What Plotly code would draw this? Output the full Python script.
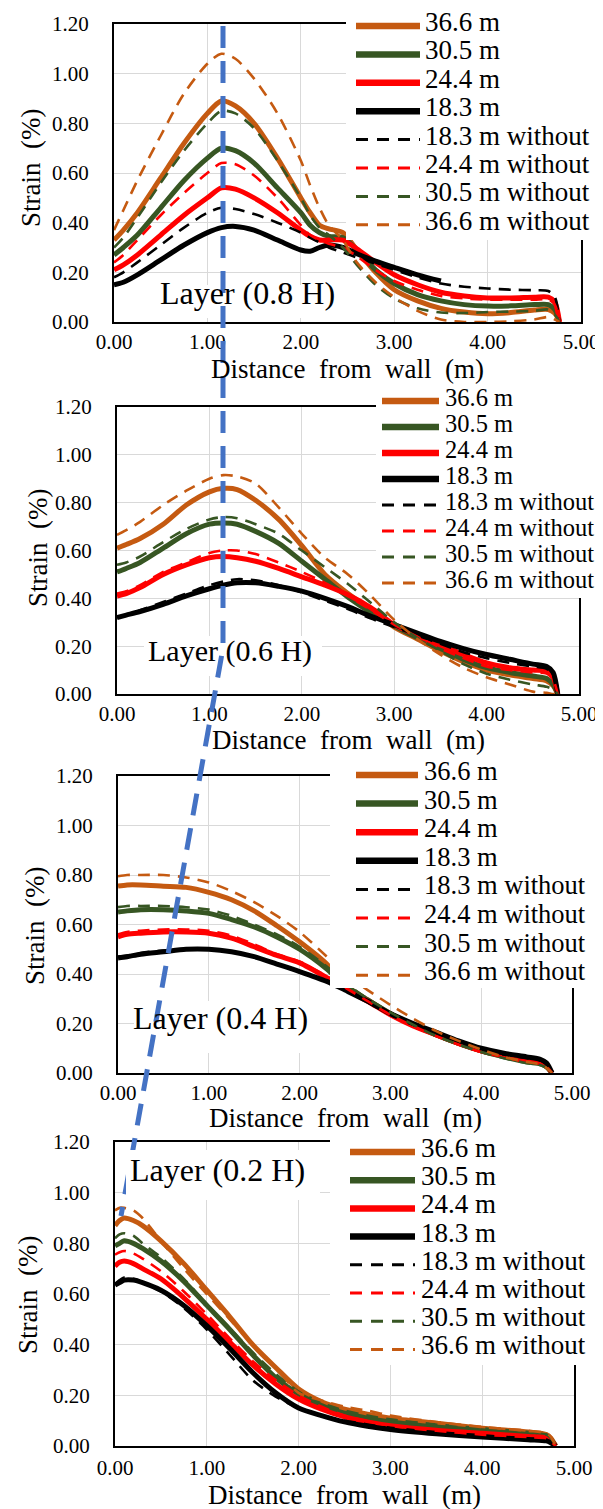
import plotly.graph_objects as go

W, H = 603, 1509
FONT = "Liberation Serif"

# ---------------- data ----------------
NAMES = ["36.6 m", "30.5 m", "24.4 m", "18.3 m",
         "18.3 m without", "24.4 m without", "30.5 m without", "36.6 m without"]
COLORS = ["#C55A11", "#375623", "#FF0000", "#000000",
          "#000000", "#FF0000", "#375623", "#C55A11"]
DASHED = [False, False, False, False, True, True, True, True]
LAYERS = ["Layer (0.8 H)", "Layer (0.6 H)", "Layer (0.4 H)", "Layer (0.2 H)"]
X_TICKS = [0, 1, 2, 3, 4, 5]
Y_TICKS = [0, 0.2, 0.4, 0.6, 0.8, 1.0, 1.2]

# Panel 1 : Layer 0.8 H
X1 = [0, 0.1, 0.25, 0.5, 0.75, 1.0, 1.15, 1.3, 1.5, 1.75, 2.0, 2.1, 2.2, 2.3, 2.45,
      2.6, 2.8, 3.0, 3.25, 3.5, 3.75, 4.0, 4.25, 4.5, 4.65, 4.72, 4.77]
P1_366 = [0.33, 0.37, 0.44, 0.58, 0.72, 0.84, 0.89, 0.87, 0.80, 0.66, 0.50, 0.44, 0.39, 0.375, 0.36,
          0.29, 0.20, 0.13, 0.085, 0.055, 0.04, 0.033, 0.038, 0.048, 0.05, 0.035, 0.0]
P1_305 = [0.27, 0.30, 0.35, 0.46, 0.57, 0.66, 0.70, 0.69, 0.64, 0.54, 0.44, 0.39, 0.36, 0.345, 0.34,
          0.29, 0.21, 0.155, 0.11, 0.085, 0.07, 0.064, 0.065, 0.07, 0.07, 0.05, 0.0]
P1_244 = [0.21, 0.23, 0.27, 0.35, 0.43, 0.50, 0.54, 0.535, 0.50, 0.44, 0.37, 0.345, 0.33, 0.33, 0.33,
          0.295, 0.24, 0.19, 0.15, 0.12, 0.105, 0.097, 0.097, 0.10, 0.10, 0.08, 0.0]
P1_183 = [0.15, 0.16, 0.19, 0.25, 0.31, 0.36, 0.38, 0.385, 0.37, 0.33, 0.29, 0.285, 0.30, 0.31, 0.30,
          0.275, 0.245, 0.22, 0.19, 0.165, None, None, None, None, None, None, None]
P1_183W = [0.18, 0.20, 0.24, 0.31, 0.38, 0.44, 0.46, 0.455, 0.435, 0.40, 0.36, 0.34, 0.32, 0.30, 0.28,
           0.26, 0.235, 0.21, 0.18, 0.155, 0.142, 0.135, 0.13, 0.128, 0.125, 0.10, 0.0]
P1_244W = [0.24, 0.27, 0.33, 0.43, 0.52, 0.60, 0.64, 0.635, 0.59, 0.50, 0.39, 0.35, 0.33, 0.315, 0.30,
           0.265, 0.21, 0.165, 0.13, 0.105, 0.095, 0.09, 0.09, 0.09, 0.09, 0.07, 0.0]
P1_305W = [0.30, 0.34, 0.42, 0.56, 0.69, 0.80, 0.85, 0.84, 0.78, 0.65, 0.50, 0.43, 0.38, 0.35, 0.30,
           0.23, 0.15, 0.095, 0.055, 0.038, 0.036, 0.04, 0.042, 0.045, 0.05, 0.03, 0.0]
P1_366W = [0.37, 0.45, 0.57, 0.75, 0.92, 1.04, 1.08, 1.06, 0.98, 0.84, 0.65, 0.55, 0.46, 0.39, 0.33,
           0.24, 0.16, 0.10, 0.045, 0.01, 0.0, 0.0, 0.003, 0.01, 0.02, 0.01, 0.0]

# Panel 2 : Layer 0.6 H
X2 = [0, 0.1, 0.25, 0.5, 0.75, 1.0, 1.15, 1.3, 1.5, 1.75, 2.0, 2.25, 2.5, 2.75, 3.0,
      3.25, 3.5, 3.75, 4.0, 4.25, 4.5, 4.65, 4.72, 4.77]
P2_366 = [0.61, 0.625, 0.65, 0.71, 0.79, 0.845, 0.86, 0.855, 0.81, 0.73, 0.62, 0.50, 0.42, 0.35, 0.28,
          0.23, 0.18, 0.135, 0.10, 0.08, 0.065, 0.055, 0.035, 0.0]
P2_305 = [0.51, 0.525, 0.55, 0.61, 0.67, 0.71, 0.715, 0.71, 0.68, 0.63, 0.555, 0.48, 0.405, 0.34, 0.285,
          0.235, 0.19, 0.145, 0.11, 0.09, 0.075, 0.065, 0.04, 0.0]
P2_244 = [0.41, 0.42, 0.445, 0.50, 0.54, 0.57, 0.575, 0.57, 0.555, 0.525, 0.49, 0.455, 0.415, 0.36, 0.29,
          0.245, 0.205, 0.165, 0.13, 0.11, 0.10, 0.095, 0.07, 0.0]
P2_183 = [0.32, 0.33, 0.345, 0.375, 0.41, 0.44, 0.455, 0.465, 0.465, 0.45, 0.43, 0.40, 0.365, 0.325, 0.29,
          0.255, 0.22, 0.19, 0.165, 0.145, 0.125, 0.115, 0.09, 0.0]
P2_183W = [0.32, 0.33, 0.35, 0.385, 0.42, 0.455, 0.47, 0.48, 0.475, 0.455, 0.425, 0.39, 0.355, 0.315, 0.28,
           0.245, 0.21, 0.175, 0.15, 0.13, 0.115, 0.105, 0.08, 0.0]
P2_244W = [0.42, 0.43, 0.455, 0.51, 0.55, 0.59, 0.60, 0.60, 0.585, 0.55, 0.51, 0.465, 0.41, 0.35, 0.29,
           0.24, 0.19, 0.15, 0.115, 0.10, 0.09, 0.085, 0.06, 0.0]
P2_305W = [0.54, 0.55, 0.575, 0.635, 0.69, 0.73, 0.74, 0.735, 0.71, 0.67, 0.60, 0.53, 0.46, 0.38, 0.30,
           0.235, 0.18, 0.125, 0.085, 0.06, 0.04, 0.03, 0.02, 0.0]
P2_366W = [0.665, 0.685, 0.72, 0.79, 0.85, 0.90, 0.915, 0.91, 0.88, 0.78, 0.67, 0.57, 0.50, 0.41, 0.31,
           0.23, 0.165, 0.11, 0.07, 0.04, 0.01, 0.005, 0.0, 0.0]

# Panel 3 : Layer 0.4 H
X3 = [0, 0.1, 0.25, 0.5, 0.75, 1.0, 1.25, 1.5, 1.75, 2.0, 2.3, 2.5, 2.75, 3.0,
      3.25, 3.5, 3.75, 4.0, 4.25, 4.5, 4.65, 4.72, 4.78]
P3_366 = [0.755, 0.76, 0.76, 0.755, 0.75, 0.73, 0.70, 0.655, 0.595, 0.53, 0.44, 0.355, 0.295, 0.24,
          0.195, 0.155, 0.12, 0.09, 0.068, 0.05, 0.04, 0.025, 0.0]
P3_305 = [0.65, 0.655, 0.66, 0.66, 0.655, 0.645, 0.62, 0.59, 0.55, 0.50, 0.42, 0.355, 0.295, 0.24,
          0.195, 0.155, 0.12, 0.09, 0.065, 0.045, 0.037, 0.025, 0.0]
P3_244 = [0.55, 0.56, 0.565, 0.57, 0.57, 0.565, 0.545, 0.51, 0.475, 0.445, 0.385, 0.34, 0.29, 0.235,
          0.19, 0.155, 0.12, 0.09, 0.07, 0.05, 0.042, 0.03, 0.0]
P3_183 = [0.465, 0.47, 0.48, 0.49, 0.50, 0.50, 0.49, 0.47, 0.44, 0.41, 0.37, 0.335, 0.29, 0.24,
          0.20, 0.165, 0.13, 0.10, 0.08, 0.065, 0.055, 0.04, 0.0]
P3_183W = [0.47, 0.475, 0.485, 0.495, 0.50, 0.50, 0.49, 0.47, 0.44, 0.41, 0.37, 0.335, 0.285, 0.235,
           0.195, 0.16, 0.125, 0.095, 0.075, 0.06, 0.05, 0.035, 0.0]
P3_244W = [0.56, 0.57, 0.575, 0.58, 0.58, 0.575, 0.555, 0.52, 0.48, 0.45, 0.39, 0.345, 0.29, 0.235,
           0.19, 0.15, 0.115, 0.085, 0.065, 0.045, 0.038, 0.025, 0.0]
P3_305W = [0.67, 0.675, 0.675, 0.675, 0.67, 0.66, 0.635, 0.60, 0.56, 0.51, 0.43, 0.365, 0.30, 0.245,
           0.195, 0.15, 0.115, 0.085, 0.06, 0.04, 0.032, 0.02, 0.0]
P3_366W = [0.795, 0.80, 0.80, 0.80, 0.79, 0.77, 0.735, 0.69, 0.635, 0.57, 0.47, 0.40, 0.335, 0.275,
           0.22, 0.17, 0.13, 0.095, 0.065, 0.045, 0.035, 0.02, 0.0]

# Panel 4 : Layer 0.2 H
X4 = [0, 0.05, 0.1, 0.2, 0.3, 0.5, 0.75, 1.0, 1.25, 1.5, 1.75, 2.0, 2.25, 2.5, 2.75,
      3.0, 3.5, 4.0, 4.5, 4.7, 4.75, 4.8]
P4_366 = [0.87, 0.89, 0.90, 0.89, 0.87, 0.81, 0.72, 0.615, 0.51, 0.40, 0.31, 0.225, 0.175, 0.145, 0.125,
          0.11, 0.09, 0.07, 0.055, 0.045, 0.03, 0.0]
P4_305 = [0.79, 0.80, 0.81, 0.80, 0.78, 0.73, 0.65, 0.555, 0.46, 0.36, 0.27, 0.205, 0.16, 0.13, 0.11,
          0.095, 0.075, 0.06, 0.045, 0.04, 0.025, 0.0]
P4_244 = [0.71, 0.725, 0.73, 0.72, 0.70, 0.66, 0.585, 0.50, 0.41, 0.32, 0.245, 0.185, 0.145, 0.115, 0.095,
          0.08, 0.062, 0.05, 0.038, 0.032, 0.02, 0.0]
P4_183 = [0.635, 0.645, 0.655, 0.655, 0.645, 0.615, 0.555, 0.475, 0.385, 0.29, 0.21, 0.15, 0.12, 0.095, 0.078,
          0.065, 0.048, 0.035, 0.025, 0.02, 0.012, 0.0]
P4_183W = [0.64, 0.655, 0.665, 0.66, 0.645, 0.61, 0.545, 0.46, 0.36, 0.26, 0.195, 0.15, 0.12, 0.10, 0.085,
           0.072, 0.055, 0.042, 0.03, 0.025, 0.015, 0.0]
P4_244W = [0.755, 0.765, 0.77, 0.76, 0.74, 0.69, 0.61, 0.52, 0.425, 0.335, 0.26, 0.20, 0.155, 0.12, 0.098,
           0.08, 0.06, 0.045, 0.035, 0.03, 0.018, 0.0]
P4_305W = [0.82, 0.835, 0.84, 0.83, 0.80, 0.745, 0.66, 0.56, 0.465, 0.37, 0.285, 0.215, 0.17, 0.14, 0.12,
           0.105, 0.085, 0.07, 0.055, 0.045, 0.03, 0.0]
P4_366W = [0.93, 0.94, 0.94, 0.93, 0.90, 0.81, 0.70, 0.60, 0.50, 0.40, 0.31, 0.21, 0.18, 0.155, 0.14,
           0.12, 0.095, 0.075, 0.06, 0.05, 0.035, 0.0]

PANELS = [
    (X1, [P1_366, P1_305, P1_244, P1_183, P1_183W, P1_244W, P1_305W, P1_366W]),
    (X2, [P2_366, P2_305, P2_244, P2_183, P2_183W, P2_244W, P2_305W, P2_366W]),
    (X3, [P3_366, P3_305, P3_244, P3_183, P3_183W, P3_244W, P3_305W, P3_366W]),
    (X4, [P4_366, P4_305, P4_244, P4_183, P4_183W, P4_244W, P4_305W, P4_366W]),
]

# ---------------- layout (pixel geometry) ----------------
def fx(px):
    return px / W

def fy(py):
    return 1 - py / H

# plot areas: (left, top, right, bottom) in px
AREAS = [(106, 16, 573, 314), (109, 399, 571, 686), (110, 768, 564, 1065), (107, 1134, 566, 1438)]
XSTANDOFF = [0, 0, 0, 2]
XTITLE_Y = [361, 732, 1110, 1487]
YTITLE_POS = [(23, 160), (30, 540), (27, 918), (20, 1287)]
# layer label: centre (x, y), font size, white box (x0, y0, x1, y1)
LAYER_POS = [(239, 285, 32, (150, 277, 338, 310)),
             (222, 643, 30, (136, 628, 314, 668)),
             (212, 1010, 32, (126, 993, 312, 1045)),
             (209, 1162, 32, (118, 1142, 312, 1192))]
# legend: box (x0,y0,x1,y1), key x0, key x1, text x, first row y, row step, font size
LEGENDS = [
    ((338, 0, 603, 232), 348, 412, 416, 18, 28.4, 27),
    ((368, 378, 603, 590), 374, 431, 436, 393, 26.0, 24.5),
    ((322, 748, 603, 980), 348, 410, 415, 767, 28.6, 26.5),
    ((322, 1118, 603, 1357), 342, 407, 412, 1144, 28.2, 27),
]

fig = go.Figure()
shapes = []
late_shapes = []
annotations = []

for i, (xs, series) in enumerate(PANELS):
    n = i + 1
    xa = "x" if n == 1 else f"x{n}"
    ya = "y" if n == 1 else f"y{n}"
    for name, color, dashed, ys in zip(NAMES, COLORS, DASHED, series):
        fig.add_trace(go.Scatter(
            x=xs, y=ys, mode="lines", name=name, showlegend=False,
            connectgaps=False, xaxis=xa, yaxis=ya,
            line=dict(color=color, width=2.6 if dashed else 5,
                      dash="12px,8px" if dashed else "solid",
                      shape="spline", smoothing=0.8),
        ))
    l, t, r, b = AREAS[i]
    axis_common = dict(showline=True, linecolor="black", linewidth=2, mirror=True,
                       showgrid=True, gridcolor="#D9D9D9", gridwidth=1.3,
                       zeroline=False, ticks="", automargin=False,
                       tickfont=dict(family=FONT, size=21, color="black"))
    fig.layout[f"xaxis{'' if n == 1 else n}"] = dict(
        axis_common, domain=[fx(l), fx(r)], range=[0, 5], tickvals=X_TICKS,
        tickformat=".2f", anchor=ya, ticklabelstandoff=XSTANDOFF[i])
    fig.layout[f"yaxis{'' if n == 1 else n}"] = dict(
        axis_common, domain=[fy(b), fy(t)], range=[0, 1.2], tickvals=Y_TICKS,
        tickformat=".2f", anchor=xa, ticklabelstandoff=19)

    # axis titles
    annotations.append(dict(
        text="Distance\u00a0 from\u00a0 wall\u00a0 (m)", xref="paper", yref="paper",
        x=fx((l + r) / 2), y=fy(XTITLE_Y[i]), xanchor="center", yanchor="middle",
        showarrow=False, font=dict(family=FONT, size=27, color="black")))
    yx, yy = YTITLE_POS[i]
    annotations.append(dict(
        text="Strain\u00a0 (%)", xref="paper", yref="paper", textangle=-90,
        x=fx(yx), y=fy(yy), xanchor="center", yanchor="middle",
        showarrow=False, font=dict(family=FONT, size=27, color="black")))
    # layer label with white box
    lx, ly, lfs, (wx0, wy0, wx1, wy1) = LAYER_POS[i]
    box = dict(type="rect", xref="paper", yref="paper", layer="above",
               x0=fx(wx0), x1=fx(wx1), y0=fy(wy1), y1=fy(wy0),
               fillcolor="white", line=dict(width=0))
    (late_shapes if n == 4 else shapes).append(box)
    annotations.append(dict(
        text=LAYERS[i], xref="paper", yref="paper", x=fx(lx), y=fy(ly),
        xanchor="center", yanchor="middle", showarrow=False,
        font=dict(family=FONT, size=lfs, color="black")))

    # legend
    (bx0, by0, bx1, by1), kx0, kx1, tx, row0, step, fs = LEGENDS[i]
    shapes.append(dict(type="rect", xref="paper", yref="paper", layer="above",
                       x0=fx(bx0), x1=fx(bx1), y0=fy(by1), y1=fy(by0),
                       fillcolor="white", line=dict(width=0)))
    for k, (name, color, dashed) in enumerate(zip(NAMES, COLORS, DASHED)):
        yk = row0 + k * step
        shapes.append(dict(type="line", xref="paper", yref="paper", layer="above",
                           x0=fx(kx0), x1=fx(kx1), y0=fy(yk), y1=fy(yk),
                           line=dict(color=color, width=3 if dashed else 6.5,
                                     dash="12px,9px" if dashed else "solid")))
        annotations.append(dict(
            text=name, xref="paper", yref="paper", x=fx(tx), y=fy(yk - 4),
            xanchor="left", yanchor="middle", showarrow=False, borderpad=0,
            font=dict(family=FONT, size=fs, color="black")))

# blue dashed guide line across panels
path = (f"M {fx(215)} {fy(18)} L {fx(215)} {fy(640)} L {fx(113)} {fy(1208)}")
shapes.append(dict(type="path", xref="paper", yref="paper", layer="above", path=path,
                   line=dict(color="#4472C4", width=5, dash="22px,13px")))
shapes.extend(late_shapes)

fig.update_layout(
    width=W, height=H, margin=dict(l=0, r=0, t=0, b=0, autoexpand=False),
    paper_bgcolor="white", plot_bgcolor="white", showlegend=False,
    shapes=shapes, annotations=annotations,
    font=dict(family=FONT, color="black"),
)

fig.write_html("out.html")
